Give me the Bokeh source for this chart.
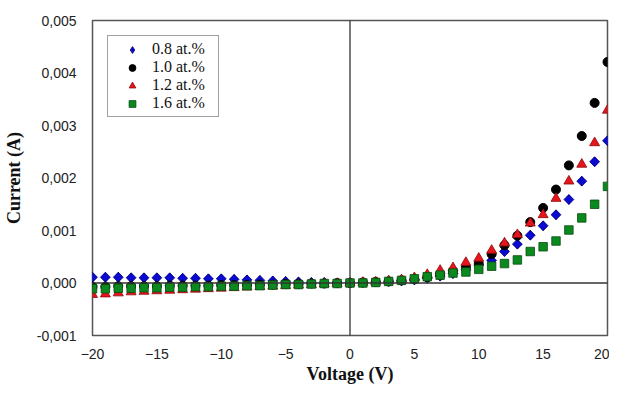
import math
from bokeh.plotting import figure
from bokeh.models import Range1d, FixedTicker, CustomJSTickFormatter, Span, Legend, LegendItem
from bokeh.embed import file_html
from bokeh.resources import INLINE

voltage = list(range(-20, 21))

cur_08 = [0.00011, 0.00011, 0.00011, 0.00010, 0.00010, 0.00010, 0.00010, 0.00009, 0.00009, 0.00008,
          0.00008, 0.00007, 0.00006, 0.00005, 0.00004, 0.00003, 0.00002, 0.00001, 0.00001, 0.0, 0.0,
          0.00001, 0.00002, 0.00003, 0.00004, 0.00006, 0.00009, 0.00013, 0.00018, 0.00025, 0.00034,
          0.00043, 0.00060, 0.00074, 0.00091, 0.00109, 0.00130, 0.00159, 0.00194, 0.00231, 0.00271]

cur_10 = [-0.00007, -0.00007, -0.00006, -0.00006, -0.00006, -0.00006, -0.00005, -0.00005, -0.00005, -0.00005,
          -0.00004, -0.00004, -0.00004, -0.00003, -0.00003, -0.00002, -0.00002, -0.00001, -0.00001, 0.0, 0.0,
          0.00001, 0.00002, 0.00003, 0.00005, 0.00007, 0.00011, 0.00016, 0.00023, 0.00030, 0.00037,
          0.00055, 0.00072, 0.00090, 0.00116, 0.00143, 0.00178, 0.00224, 0.00280, 0.00343, 0.00421]

cur_12 = [-0.00022, -0.00021, -0.00019, -0.00017, -0.00016, -0.00015, -0.00014, -0.00013, -0.00012, -0.00011,
          -0.00010, -0.00009, -0.00008, -0.00007, -0.00006, -0.00005, -0.00004, -0.00003, -0.00002, -0.00001, 0.0,
          0.00001, 0.00002, 0.00004, 0.00006, 0.00010, 0.00016, 0.00024, 0.00029, 0.00039, 0.00047,
          0.00062, 0.00076, 0.00092, 0.00114, 0.00130, 0.00161, 0.00194, 0.00226, 0.00267, 0.00329]

cur_16 = [-0.00011, -0.00011, -0.00010, -0.00010, -0.00009, -0.00009, -0.00008, -0.00008, -0.00007, -0.00007,
          -0.00006, -0.00006, -0.00005, -0.00005, -0.00004, -0.00003, -0.00003, -0.00002, -0.00001, -0.00001, 0.0,
          0.0, 0.00001, 0.00003, 0.00005, 0.00008, 0.00012, 0.00015, 0.00019, 0.00021, 0.00026,
          0.00032, 0.00037, 0.00044, 0.00060, 0.00069, 0.00080, 0.00101, 0.00124, 0.00150, 0.00184]

series_labels = ["0.8 at.%", "1.0 at.%", "1.2 at.%", "1.6 at.%"]
x_ticks = [-20, -15, -10, -5, 0, 5, 10, 15, 20]
y_ticks = [-0.001, 0.0, 0.001, 0.002, 0.003, 0.004, 0.005]

p = figure(width=609, height=386, x_range=Range1d(-20, 20), y_range=Range1d(-0.001, 0.005),
           output_backend="svg", toolbar_location=None,
           min_border_left=88, min_border_right=2, min_border_top=20, min_border_bottom=48)

p.background_fill_color = "white"
p.border_fill_color = "white"
p.outline_line_color = "#555555"
p.outline_line_width = 1.5
p.xgrid.visible = False
p.ygrid.visible = False

p.add_layout(Span(location=0, dimension="width", line_color="#333333", line_width=1.3))
p.add_layout(Span(location=0, dimension="height", line_color="#333333", line_width=1.3))

blue_style = dict(fill_color="#0A0AD0", line_color="#00007A", line_width=0.8)
r_blue_leg = p.scatter(voltage, cur_08, marker="diamond", size=9.5, **blue_style)
p.scatter(voltage, cur_08, marker="square", angle=math.pi / 4, size=7, **blue_style)
r_black = p.scatter(voltage, cur_10, marker="circle", size=9, fill_color="#000000", line_color="#000000")
r_red = p.scatter(voltage, cur_12, marker="triangle", size=10, fill_color="#E8141C", line_color="#8A0A0A",
                  line_width=0.8)
r_green = p.scatter(voltage, cur_16, marker="square", size=8.5, fill_color="#0A8A1E", line_color="#0A4A10",
                    line_width=0.8)

lg = Legend(items=[LegendItem(label=series_labels[0], renderers=[r_blue_leg]),
                   LegendItem(label=series_labels[1], renderers=[r_black]),
                   LegendItem(label=series_labels[2], renderers=[r_red]),
                   LegendItem(label=series_labels[3], renderers=[r_green])])
p.add_layout(lg)

for ax in (p.xaxis[0], p.yaxis[0]):
    ax.axis_line_color = None
    ax.major_tick_line_color = None
    ax.minor_tick_line_color = None
    ax.major_label_text_font = "Liberation Sans"
    ax.major_label_text_font_size = "14px"
    ax.major_label_text_color = "#222222"
    ax.axis_label_text_font = "Liberation Serif"
    ax.axis_label_text_font_style = "bold"
    ax.axis_label_text_font_size = "18px"
    ax.axis_label_text_color = "#111111"

p.xaxis.ticker = FixedTicker(ticks=x_ticks)
p.yaxis.ticker = FixedTicker(ticks=y_ticks)
p.yaxis.formatter = CustomJSTickFormatter(code="return tick.toFixed(3).replace('.', ',');")
p.xaxis.major_label_standoff = 7
p.yaxis.major_label_standoff = 10
p.xaxis.axis_label = "Voltage (V)"
p.yaxis.axis_label = "Current (A)"
p.xaxis.axis_label_standoff = 2
p.yaxis.axis_label_standoff = 10

lg.location = "top_left"
lg.margin = 15
lg.padding = 4
lg.spacing = 0
lg.label_height = 17
lg.glyph_height = 17
lg.glyph_width = 40
lg.label_standoff = -4
lg.label_width = 62
lg.label_text_font = "Liberation Serif"
lg.label_text_font_size = "16px"
lg.label_text_color = "#111111"
lg.border_line_color = "#444444"
lg.border_line_width = 1
lg.background_fill_color = "white"
lg.background_fill_alpha = 1.0

open("out.html", "w").write(file_html(p, INLINE))
